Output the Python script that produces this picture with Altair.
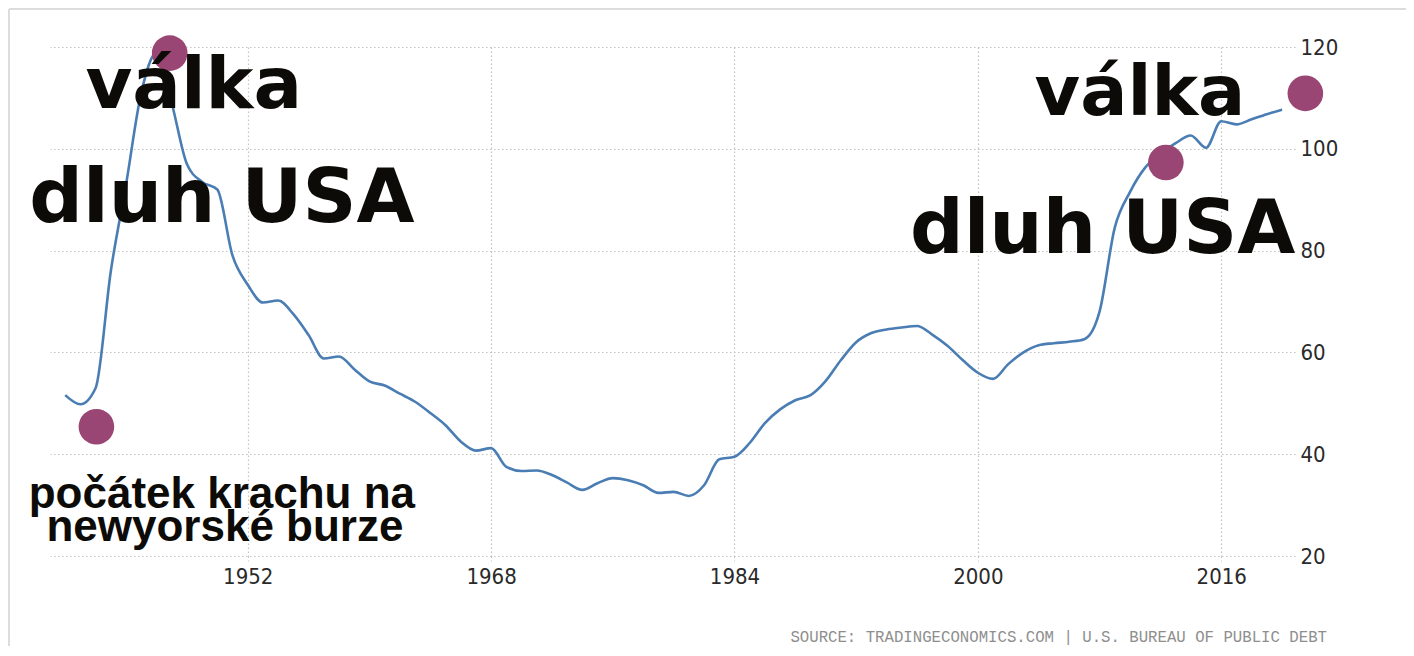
import altair as alt
import pandas as pd

# ---- data ----
years = [1940, 1941, 1942, 1943, 1944, 1945, 1946, 1947, 1948, 1949,
         1950, 1951, 1952, 1953, 1954, 1955, 1956, 1957, 1958, 1959,
         1960, 1961, 1962, 1963, 1964, 1965, 1966, 1967, 1968, 1969,
         1970, 1971, 1972, 1973, 1974, 1975, 1976, 1977, 1978, 1979,
         1980, 1981, 1982, 1983, 1984, 1985, 1986, 1987, 1988, 1989,
         1990, 1991, 1992, 1993, 1994, 1995, 1996, 1997, 1998, 1999,
         2000, 2001, 2002, 2003, 2004, 2005, 2006, 2007, 2008, 2009,
         2010, 2011, 2012, 2013, 2014, 2015, 2016, 2017, 2018, 2019,
         2020]
debt_to_gdp = [51.6, 49.8, 53.0, 76.0, 93.0, 111.0, 118.8, 109.0, 97.0, 93.5,
               92.0, 79.0, 73.3, 69.8, 70.2, 67.5, 63.4, 58.8, 59.2, 56.7,
               54.3, 53.5, 51.9, 50.3, 48.1, 45.7, 42.5, 40.7, 41.2, 37.5,
               36.7, 36.8, 35.9, 34.4, 33.0, 34.3, 35.3, 34.9, 33.9, 32.4,
               32.6, 31.8, 33.9, 39.0, 39.5, 42.2, 46.1, 48.8, 50.6, 51.6,
               54.4, 58.5, 62.0, 63.8, 64.5, 64.9, 65.2, 63.5, 61.3, 58.5,
               56.0, 54.8, 57.7, 60.0, 61.4, 61.8, 62.1, 62.6, 68.0, 84.5,
               91.5, 96.3, 99.0, 101.1, 102.6, 100.2, 105.4, 104.8, 105.8, 106.8,
               107.7]

x_ticks = [1952, 1968, 1984, 2000, 2016]
y_ticks = [20, 40, 60, 80, 100, 120]

dot_years = [1942.05, 1946.87, 2012.36, 2021.53]
dot_values = [45.4, 118.8, 97.3, 110.9]

big_labels = ["válka", "dluh USA", "válka", "dluh USA"]
big_years = [1948.45, 1950.3, 2010.65, 2008.2]
big_values = [108.0, 85.7, 106.6, 79.5]
big_sizes = [72, 75, 70, 75]

small_labels = ["počátek krachu na", "newyorské burze"]
small_years = [1950.3, 1950.5]
small_values = [29.4, 22.9]

source_text = ["SOURCE: TRADINGECONOMICS.COM | U.S. BUREAU OF PUBLIC DEBT"]

# ---- tables ----
line_df = pd.DataFrame({"year": years, "value": debt_to_gdp})
dot_df = pd.DataFrame({"year": dot_years, "value": dot_values})
big_df = pd.DataFrame({"year": big_years, "value": big_values,
                       "label": big_labels, "fs": big_sizes})
small_df = pd.DataFrame({"year": small_years, "value": small_values,
                         "label": small_labels})
source_df = pd.DataFrame({"label": source_text})

NARROW = "Liberation Sans Narrow, DejaVu Sans Condensed, Liberation Sans, Arial"
GRID = "#c2c2c2"

x_scale = alt.Scale(domain=[1939, 2020.85], nice=False, zero=False)
y_scale = alt.Scale(domain=[20, 120], nice=False, zero=False)

x_axis = alt.Axis(values=x_ticks, format="d", title=None, domain=False,
                  grid=True, gridColor=GRID, gridDash=[1.5, 2.5], gridWidth=1.2,
                  ticks=True, tickColor=GRID, tickSize=5, tickDash=[1.5, 2.5],
                  labelFont=NARROW, labelFontSize=22, labelColor="#2a2a2a",
                  labelPadding=5)
y_axis = alt.Axis(values=y_ticks, orient="right", title=None, domain=False,
                  grid=True, gridColor=GRID, gridDash=[1.5, 2.5], gridWidth=1.2,
                  ticks=False, labelFont=NARROW, labelFontSize=22,
                  labelColor="#2a2a2a", labelAlign="left",
                  labelBaseline="middle", labelPadding=5)

line = alt.Chart(line_df).mark_line(
    interpolate="monotone", color="#4a7db3", strokeWidth=2.6
).encode(
    x=alt.X("year:Q", scale=x_scale, axis=x_axis),
    y=alt.Y("value:Q", scale=y_scale, axis=y_axis),
)

dots = alt.Chart(dot_df).mark_circle(
    size=1270, color="#9a4674", opacity=1, clip=False
).encode(
    x=alt.X("year:Q", scale=x_scale),
    y=alt.Y("value:Q", scale=y_scale),
)

big_text = alt.Chart(big_df).mark_text(
    font="DejaVu Sans", fontWeight="bold", color="#0d0b08",
    align="center", baseline="alphabetic"
).encode(
    x=alt.X("year:Q", scale=x_scale),
    y=alt.Y("value:Q", scale=y_scale),
    text="label:N",
    size=alt.Size("fs:Q", scale=None, legend=None),
)

small_text = alt.Chart(small_df).mark_text(
    font="Liberation Sans, Arial", fontWeight="bold", fontSize=44,
    color="#0d0b08", align="center", baseline="alphabetic"
).encode(
    x=alt.X("year:Q", scale=x_scale),
    y=alt.Y("value:Q", scale=y_scale),
    text="label:N",
)

source = alt.Chart(source_df).mark_text(
    font="Liberation Mono", fontSize=15.7, color="#8e8e8e",
    align="right", baseline="alphabetic"
).encode(
    x=alt.value(1277), y=alt.value(595), text="label:N"
)

frame_top = alt.Chart(line_df).mark_rule(color="#dcdcdc", strokeWidth=2).encode(
    x=alt.value(-41), x2=alt.value(1362), y=alt.value(-38)
)
frame_left = alt.Chart(line_df).mark_rule(color="#dcdcdc", strokeWidth=2).encode(
    x=alt.value(-41), y=alt.value(-38), y2=alt.value(620)
)

chart = alt.layer(
    frame_top, frame_left, line, dots, big_text, small_text, source
).properties(
    width=1245,
    height=509,
    autosize=alt.AutoSizeParams(type="none"),
    padding={"left": 42, "top": 39, "right": 111, "bottom": 90},
).configure_view(stroke=None)

chart.save("out.html", embed_options={"renderer": "svg", "actions": False})
